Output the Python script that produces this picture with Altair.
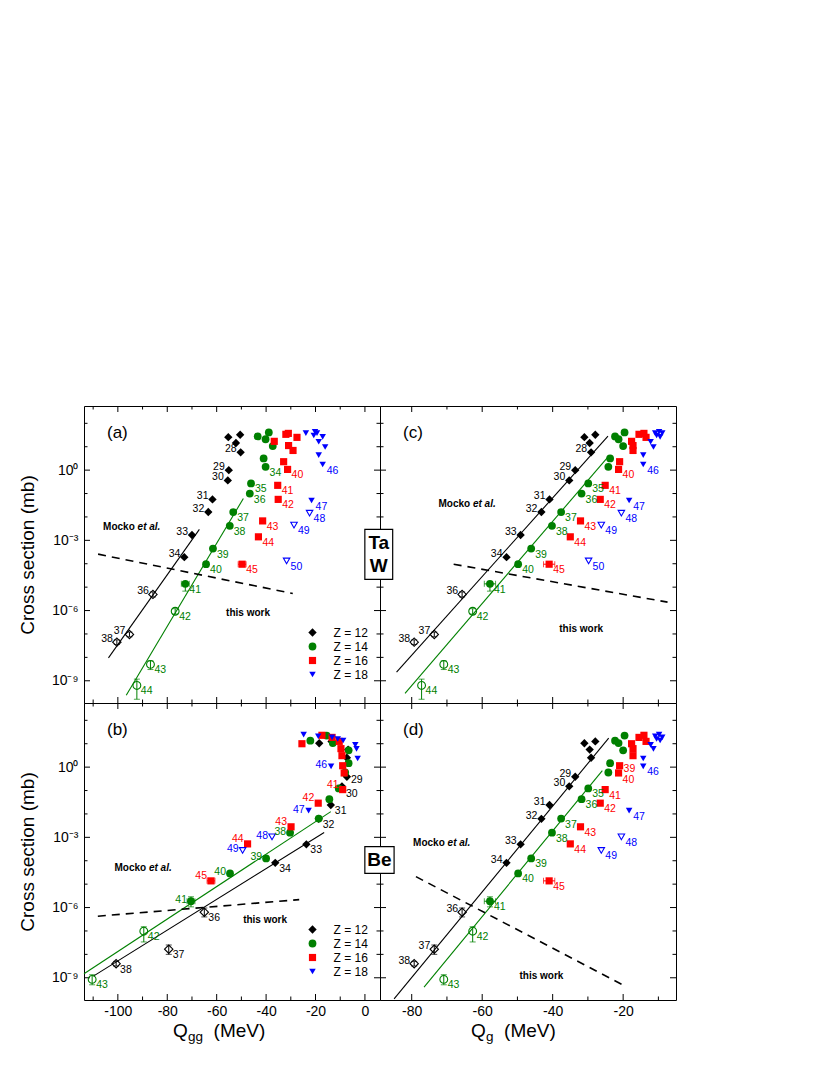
import altair as alt
import pandas as pd
import numpy as np

FONT = "Liberation Sans"
W, H = 296, 297
XDOM = {"a": [-113.7, 6.1], "b": [-113.7, 6.1], "c": [-89.0, -5.0], "d": [-89.0, -5.0]}
YDOM = [-9.95, 2.74]

ZL = ["Z = 12", "Z = 14", "Z = 16", "Z = 18"]
COLORS = ["black", "#008000", "#ff0000", "#0000ff"]
SHAPES = ["diamond", "circle", "square", "triangle-down"]
SIZES = [70, 42, 42, 55]

# ---- Z = 12 (values: Q in MeV, log10 of cross section in mb) ----
A12 = [0, 0, 0, 28, 29, 30, 31, 32, 33, 34, 36, 37, 38]
QG12 = [-31.0, -27.9, -29.5, -29.1, -33.6, -35.3, -40.9, -43.2, -49.1, -53.1, -65.7, -73.6, -79.3]
QGGTA12 = [-55.3, -50.5, -52.2, -50.3, -55.1, -55.5, -61.7, -63.4, -70.0, -73.1, -85.8, -95.3, -100.4]
QGGBE12 = [-18.5, -13.5, -6.8, -7.3, -7.3, -9.3, -13.8, -18.7, -23.7, -36.3, -65.0, -79.4, -100.7]
LTA12 = [1.41, 1.51, 1.16, 0.76, 0.0, -0.44, -1.25, -1.79, -2.77, -3.72, -5.31, -7.02, -7.35]
LBE12 = [1.02, 1.10, 0.75, 0.40, -0.41, -0.82, -1.62, -2.21, -3.30, -4.09, -6.20, -7.78, -8.40]
OPEN12 = [0, 0, 0, 0, 0, 0, 0, 0, 0, 0, 1, 1, 1]

# ---- Z = 14 ----
A14 = [0, 0, 0, 0, 0, 34, 35, 36, 37, 38, 39, 40, 41, 42, 43, 44]
QG14 = [-22.3, -19.6, -21.3, -20.0, -23.7, -24.2, -29.9, -31.8, -37.6, -40.2, -46.1, -49.8, -57.8, -62.7, -70.9, -77.2]
QGGTA14 = [-43.4, -38.9, -40.2, -37.3, -41.0, -40.2, -46.1, -46.6, -53.3, -54.7, -61.5, -64.3, -72.7, -76.8, -86.8, -92.3]
QGGBE14 = [-22.1, -15.5, -13.0, -6.6, -6.6, -8.0, -10.6, -14.4, -18.7, -30.3, -40.0, -54.6, -70.4, -89.5, -110.4, None]
LTA14 = [1.44, 1.61, 1.32, 1.03, 0.50, 0.14, -0.57, -1.00, -1.79, -2.38, -3.35, -4.02, -4.86, -6.03, -8.30, -9.20]
LBE14 = [1.13, 1.35, 1.03, 0.72, 0.17, -0.23, -0.91, -1.37, -2.20, -2.80, -3.90, -4.54, -5.73, -7.01, -9.07, None]
OPEN14 = [0, 0, 0, 0, 0, 0, 0, 0, 0, 0, 0, 0, 0, 1, 1, 1]

# ---- Z = 16 ----
A16 = [0, 0, 0, 0, 0, 0, 39, 40, 41, 42, 43, 44, 45]
QG16 = [-14.1, -15.5, -13.5, -17.6, -17.2, -17.2, -21.0, -21.3, -25.1, -26.5, -32.1, -35.0, -41.0]
QGGTA16 = [-31.0, -32.0, -27.5, -36.7, -30.9, -29.1, -32.9, -31.3, -35.3, -35.1, -41.4, -43.1, -49.7]
QGGBE16 = [-17.4, -13.3, -10.4, -25.5, -9.7, -9.3, -9.0, -8.4, -9.0, -18.9, -29.9, -47.5, -62.3]
LTA16 = [1.57, 1.53, 1.40, 1.23, 1.05, 0.84, 0.36, 0.03, -0.65, -1.25, -2.17, -2.85, -4.02]
LBE16 = [1.36, 1.27, 1.10, 1.00, 0.79, 0.49, 0.06, -0.25, -0.96, -1.54, -2.55, -3.28, -4.86]
OPEN16 = [0] * 13

# ---- Z = 18 ----
A18 = [0, 0, 0, 0, 0, 0, 0, 0, 46, 47, 48, 49, 50]
QG18 = [-10.9, -9.8, -8.9, -10.5, -9.5, -12.2, -11.4, -14.3, -14.3, -18.3, -20.5, -26.2, -29.8]
QGGTA18 = [-23.9, -20.2, -19.4, -20.7, -17.1, -18.7, -16.1, -18.7, -17.1, -21.6, -22.4, -28.7, -31.7]
QGGBE18 = [-18.9, -24.8, -13.3, -11.0, -8.8, -3.9, -3.4, -2.95, -13.7, -22.8, -37.6, -49.5, None]
LTA18 = [1.58, 1.64, 1.58, 1.48, 1.42, 1.21, 0.99, 0.64, 0.24, -1.30, -1.84, -2.35, -3.88]
LBE18 = [1.32, 1.39, 1.27, 1.20, 1.14, 0.95, 0.78, 0.37, 0.03, -1.86, -2.98, -3.56, None]
OPEN18 = [0, 0, 0, 0, 0, 0, 0, 0, 0, 0, 1, 1, 1]

# ---- error bars (log10 sigma limits, half-widths in MeV) ----
ERR_Z = [12, 12, 12, 14, 14, 14, 14, 16, 12, 12, 12, 14, 14, 14, 16]
ERR_A = [36, 37, 38, 41, 42, 43, 44, 45, 36, 37, 38, 41, 42, 43, 45]
ERR_T = ["Ta", "Ta", "Ta", "Ta", "Ta", "Ta", "Ta", "Ta", "Be", "Be", "Be", "Be", "Be", "Be", "Be"]
ERR_LO = [-5.42, -7.12, -7.45, -5.17, -6.15, -8.52, -9.79, None, -6.40, -8.00, -8.50, -5.97, -7.47, -9.30, None]
ERR_HI = [-5.20, -6.92, -7.25, -4.80, -5.92, -8.15, -8.93, None, -6.02, -7.60, -8.30, -5.54, -6.82, -8.87, None]
ERR_DQ = [0, 0, 0, 1.6, 0, 0, 0, 1.6, 0, 0, 0, 1.6, 0, 0, 1.6]

# ---- fitted lines ----
FIT_P = ["a", "a", "c", "c", "b", "b", "d", "d"]
FIT_Z = [12, 14, 12, 14, 12, 14, 12, 14]
FIT_X0 = [-103.8, -96.6, -84.3, -81.9, -109.9, -113.7, -85.0, -76.5]
FIT_Y0 = [-8.02, -9.62, -8.63, -9.54, -8.93, -8.83, -9.90, -9.40]
FIT_X1 = [-67.0, -49.2, -24.3, -24.1, -16.5, -13.8, -24.1, -25.9]
FIT_Y1 = [-2.53, -1.21, 1.45, 0.60, -2.79, -1.90, 1.24, -0.15]

# ---- dashed boundary lines ----
DASH_P = ["a", "b", "c", "d"]
DASH_X0 = [-108.0, -108.1, -68.1, -78.8]
DASH_Y0 = [-3.59, -6.37, -4.02, -4.68]
DASH_X1 = [-29.2, -26.6, -7.4, -19.0]
DASH_Y1 = [-5.27, -5.66, -5.64, -9.39]

# ---- region annotations (centre positions in data units) ----
MOCKO_X = {"a": -94.4, "b": -89.8, "c": -64.3, "d": -71.5}
MOCKO_Y = {"a": -2.44, "b": -4.33, "c": -1.44, "d": -3.23}
THIS_X = {"a": -47.3, "b": -40.4, "c": -31.9, "d": -43.2}
THIS_Y = {"a": -6.10, "b": -6.54, "c": -6.77, "d": -8.93}

LABEL_SETS = {
    "a": {12: [28, 29, 30, 31, 32, 33, 34, 36, 37, 38], 14: list(range(34, 45)), 16: list(range(40, 46)), 18: list(range(46, 51))},
    "c": {12: [28, 29, 30, 31, 32, 33, 34, 36, 37, 38], 14: list(range(35, 45)), 16: list(range(40, 46)), 18: list(range(46, 51))},
    "b": {12: [29, 30, 31, 32, 33, 34, 36, 37, 38], 14: list(range(38, 44)), 16: list(range(41, 46)), 18: list(range(46, 50))},
    "d": {12: [29, 30, 31, 32, 33, 34, 36, 37, 38], 14: list(range(35, 44)), 16: list(range(39, 46)), 18: list(range(46, 50))},
}
LEFT_UP = ("right", -4, -3)
LEFT_UP1 = ("right", -4, -1)
LEFT_UP2 = ("right", -4, -5)
RIGHT_DN = ("left", 4, 6)
LABEL_POS = {
    "a": {12: LEFT_UP, 14: RIGHT_DN, 16: RIGHT_DN, 18: RIGHT_DN},
    "c": {12: LEFT_UP, 14: RIGHT_DN, 16: RIGHT_DN, 18: RIGHT_DN},
    "d": {12: LEFT_UP, 14: RIGHT_DN, 16: RIGHT_DN, 18: RIGHT_DN},
    "b": {12: RIGHT_DN, 14: LEFT_UP1, 16: LEFT_UP2, 18: LEFT_UP1},
}
LABEL_EXC = {("b", 14, 42): RIGHT_DN, ("b", 14, 43): RIGHT_DN, ("d", 16, 39): ("left", 4, 3),
             ("d", 16, 40): ("left", 4, 7), ("b", 12, 29): ("left", 4, 3), ("b", 12, 30): ("left", 4, 8)}

XMAJ = {"a": [-100, -80, -60, -40, -20, 0], "c": [-80, -60, -40, -20]}
XMIN = {"a": [-110, -90, -70, -50, -30, -10], "c": [-70, -50, -30, -10]}
YMAJ = [-9, -6, -3, 0]
YMIN = [-8, -7, -5, -4, -2, -1, 1, 2]

# ---------------------------------------------------------------
rows = []
for z, A, qg, qta, qbe, lta, lbe, op in [
    (12, A12, QG12, QGGTA12, QGGBE12, LTA12, LBE12, OPEN12),
    (14, A14, QG14, QGGTA14, QGGBE14, LTA14, LBE14, OPEN14),
    (16, A16, QG16, QGGTA16, QGGBE16, LTA16, LBE16, OPEN16),
    (18, A18, QG18, QGGTA18, QGGBE18, LTA18, LBE18, OPEN18),
]:
    for i in range(len(A)):
        rows.append(dict(Z=z, Zl="Z = %d" % z, A=A[i], Qg=qg[i], QggTa=qta[i], QggBe=qbe[i],
                         Ta=lta[i], Be=lbe[i], open=op[i]))
pts = pd.DataFrame(rows)
errs = pd.DataFrame(dict(Z=ERR_Z, A=ERR_A, T=ERR_T, lo=ERR_LO, hi=ERR_HI, dq=ERR_DQ))

cscale = alt.Scale(domain=ZL, range=COLORS)
sscale = alt.Scale(domain=ZL, range=SHAPES)
zscale = alt.Scale(domain=ZL, range=SIZES)

YLAB = ("datum.value == 0 ? '10\u2070' : datum.value == -3 ? '10\u207b\u00b3' : "
        "datum.value == -6 ? '10\u207b\u2076' : '10\u207b\u2079'")


def panel(key):
    tgt = "Ta" if key in "ac" else "Be"
    xcol = {"a": "QggTa", "b": "QggBe", "c": "Qg", "d": "Qg"}[key]
    dom = XDOM[key]
    bottom = key in "bd"
    left = key in "ab"
    tkey = "a" if key in "ab" else "c"
    xaxis = (alt.Axis(values=XMAJ[tkey], labelExpr="'' + datum.value", ticks=False, domain=False,
                      grid=False, title=None, labelFontSize=14, labelPadding=4, labelColor="black")
             if bottom else None)
    yaxis = (alt.Axis(values=YMAJ, labelExpr=YLAB, ticks=False, domain=False, grid=False,
                      title="Cross section (mb)", titleFontSize=19, titleFontWeight="normal",
                      titlePadding=14, labelFontSize=14, labelPadding=6, labelColor="black")
             if left else None)
    xs = alt.Scale(domain=dom, nice=False, zero=False)
    ys = alt.Scale(domain=YDOM, nice=False, zero=False)

    # one legend definition shared by every colour/shape encoding of this panel
    leg = None
    if key in "ab":
        leg = alt.Legend(title=None, orient="none", legendX=222.5, legendY=220.5, padding=0,
                         labelFont=FONT, labelFontSize=12, labelColor="black", labelOffset=15,
                         symbolSize=55, symbolStrokeWidth=0, rowPadding=2)
    col = alt.Color("Zl:N", scale=cscale, legend=leg)

    def X(f):
        return alt.X(f, type="quantitative", scale=xs, axis=xaxis)

    def Y(f):
        return alt.Y(f, type="quantitative", scale=ys, axis=yaxis)

    layers = []
    d = pts[["Z", "Zl", "A", xcol, tgt, "open"]].rename(columns={xcol: "x", tgt: "y"}).dropna()
    filled = d[d.open == 0]
    opened = d[d.open == 1]

    # ---- filled points first (carries the legend) ----
    layers.append(alt.Chart(filled).mark_point(filled=True, opacity=1).encode(
        x=X("x"), y=Y("y"), color=col,
        shape=alt.Shape("Zl:N", scale=sscale, legend=leg),
        size=alt.Size("Zl:O", scale=zscale, legend=None)))

    # ---- ticks (inward) ----
    tx_maj = pd.DataFrame(dict(v=XMAJ[tkey]))
    tx_min = pd.DataFrame(dict(v=XMIN[tkey]))
    ty_maj = pd.DataFrame(dict(v=YMAJ))
    ty_min = pd.DataFrame(dict(v=YMIN))
    for df, ln in [(tx_maj, 6), (tx_min, 3.5)]:
        layers.append(alt.Chart(df).mark_rule(color="black", strokeWidth=1).encode(
            x=X("v"), y=alt.value(H), y2=alt.value(H - ln)))
        layers.append(alt.Chart(df).mark_rule(color="black", strokeWidth=1).encode(
            x=X("v"), y=alt.value(0), y2=alt.value(ln)))
    for df, ln in [(ty_maj, 6), (ty_min, 3.5)]:
        layers.append(alt.Chart(df).mark_rule(color="black", strokeWidth=1).encode(
            y=Y("v"), x=alt.value(0), x2=alt.value(ln)))
        layers.append(alt.Chart(df).mark_rule(color="black", strokeWidth=1).encode(
            y=Y("v"), x=alt.value(W), x2=alt.value(W - ln)))

    # ---- fitted lines ----
    fits = pd.DataFrame(dict(P=FIT_P, Z=FIT_Z, x0=FIT_X0, y0=FIT_Y0, x1=FIT_X1, y1=FIT_Y1))
    fits = fits[fits.P == key].copy()
    fits["Zl"] = fits.Z.map(lambda z: "Z = %d" % z)
    layers.append(alt.Chart(fits).mark_rule(strokeWidth=1.1).encode(
        x=X("x0"), y=Y("y0"), x2="x1:Q", y2="y1:Q", color=col))

    # ---- dashed line ----
    dash = pd.DataFrame(dict(P=DASH_P, x0=DASH_X0, y0=DASH_Y0, x1=DASH_X1, y1=DASH_Y1))
    dash = dash[dash.P == key]
    layers.append(alt.Chart(dash).mark_rule(color="black", strokeWidth=1.6, strokeDash=[8, 6]).encode(
        x=X("x0"), y=Y("y0"), x2="x1:Q", y2="y1:Q"))

    # ---- error bars ----
    e = errs[errs["T"] == tgt].merge(d, on=["Z", "A"])
    ev = e.dropna(subset=["lo"])
    eh = e[e.dq > 0].copy()
    eh["xl"] = eh.x - eh.dq
    eh["xh"] = eh.x + eh.dq
    layers.append(alt.Chart(ev).mark_rule(strokeWidth=1).encode(x=X("x"), y=Y("lo"), y2="hi:Q", color=col))
    layers.append(alt.Chart(ev).mark_tick(orient="horizontal", size=6, thickness=1).encode(x=X("x"), y=Y("lo"), color=col))
    layers.append(alt.Chart(ev).mark_tick(orient="horizontal", size=6, thickness=1).encode(x=X("x"), y=Y("hi"), color=col))
    layers.append(alt.Chart(eh).mark_rule(strokeWidth=1).encode(x=X("xl"), x2="xh:Q", y=Y("y"), color=col))
    layers.append(alt.Chart(eh).mark_tick(orient="vertical", size=6, thickness=1).encode(x=X("xl"), y=Y("y"), color=col))
    layers.append(alt.Chart(eh).mark_tick(orient="vertical", size=6, thickness=1).encode(x=X("xh"), y=Y("y"), color=col))

    # ---- open points ("this work") ----
    layers.append(alt.Chart(opened).mark_point(filled=False, opacity=1, strokeWidth=1.1).encode(
        x=X("x"), y=Y("y"), color=col,
        shape=alt.Shape("Zl:N", scale=sscale, legend=leg),
        size=alt.Size("Zl:O", scale=zscale, legend=None)))

    # ---- mass-number labels ----
    lab_rows = []
    for _, r in d.iterrows():
        if r.A in LABEL_SETS[key][r.Z]:
            pos = LABEL_EXC.get((key, r.Z, r.A), LABEL_POS[key][r.Z])
            lab_rows.append(dict(x=r.x, y=r.y, Zl=r.Zl, t=str(int(r.A)), pos=pos))
    labs = pd.DataFrame(lab_rows)
    for pos, g in labs.groupby("pos"):
        al, dx, dy = pos
        layers.append(alt.Chart(g.drop(columns=["pos"])).mark_text(
            align=al, baseline="middle", dx=dx, dy=dy, font=FONT, fontSize=10.5).encode(
            x=X("x"), y=Y("y"), text="t:N", color=col))

    # ---- region texts ----
    mk = pd.DataFrame(dict(x=[MOCKO_X[key]], y=[MOCKO_Y[key]]))
    tw = pd.DataFrame(dict(x=[THIS_X[key]], y=[THIS_Y[key]], t=["this work"]))
    layers.append(alt.Chart(mk).mark_text(align="left", baseline="middle", dx=-28.6, font=FONT, fontSize=10,
                                          fontWeight="bold", text="Mocko", color="black").encode(x=X("x"), y=Y("y")))
    layers.append(alt.Chart(mk).mark_text(align="left", baseline="middle", dx=5.9, font=FONT, fontSize=10,
                                          fontWeight="bold", fontStyle="italic", text="et al.", color="black").encode(x=X("x"), y=Y("y")))
    layers.append(alt.Chart(tw).mark_text(align="center", baseline="middle", font=FONT, fontSize=10,
                                          fontWeight="bold", color="black").encode(x=X("x"), y=Y("y"), text="t:N"))

    # ---- panel letter ----
    layers.append(alt.Chart(pd.DataFrame(dict(t=["(%s)" % key]))).mark_text(
        align="left", baseline="middle", font=FONT, fontSize=17, color="black").encode(
        x=alt.value(23), y=alt.value(27), text="t:N"))

    # ---- x-axis title with subscript ----
    if bottom:
        sub = "gg" if key == "b" else "g"
        x0 = 89 if key == "b" else 91
        tdf = pd.DataFrame(dict(t=["Q"]))
        layers.append(alt.Chart(tdf).mark_text(align="left", baseline="alphabetic", font=FONT, fontSize=19,
                                               color="black", text="Q").encode(x=alt.value(x0), y=alt.value(H + 37)))
        layers.append(alt.Chart(tdf).mark_text(align="left", baseline="alphabetic", font=FONT, fontSize=13.5,
                                               color="black", text=sub).encode(x=alt.value(x0 + 15), y=alt.value(H + 41)))
        layers.append(alt.Chart(tdf).mark_text(align="left", baseline="alphabetic", font=FONT, fontSize=19,
                                               color="black", text="(MeV)").encode(
            x=alt.value(x0 + 15 + 7.5 * len(sub) + 10.6), y=alt.value(H + 37)))

    # ---- target box (straddling the middle divider), drawn in right panels ----
    if key in "cd":
        if key == "c":
            bx = pd.DataFrame(dict(x0=[-93.3], x1=[-85.4], y0=[-2.53], y1=[-4.67]))
            tt = pd.DataFrame(dict(x=[-89.35, -89.35], y=[-3.12, -4.08], t=["Ta", "W"]))
        else:
            bx = pd.DataFrame(dict(x0=[-93.3], x1=[-85.0], y0=[-3.40], y1=[-4.54]))
            tt = pd.DataFrame(dict(x=[-89.15], y=[-3.97], t=["Be"]))
        layers.append(alt.Chart(bx).mark_rect(fill="white", stroke="black", strokeWidth=1.2).encode(
            x=X("x0"), x2="x1:Q", y=Y("y0"), y2="y1:Q"))
        layers.append(alt.Chart(tt).mark_text(align="center", baseline="middle", font=FONT, fontSize=19,
                                              fontWeight="bold", color="black").encode(x=X("x"), y=Y("y"), text="t:N"))

    return alt.layer(*layers).properties(width=W, height=H)


chart = alt.concat(panel("a"), panel("c"), panel("b"), panel("d"), columns=2, spacing=0, bounds="flush").resolve_scale(
    color="independent", shape="independent", size="independent").properties(
    padding={"left": 9, "top": 397, "right": 5, "bottom": 5}, background="white").configure_view(
    stroke="black", strokeWidth=1).configure_axis(labelFont=FONT, titleFont=FONT, titleColor="black")

chart.save("out.html", embed_options={"renderer": "svg", "actions": False})
